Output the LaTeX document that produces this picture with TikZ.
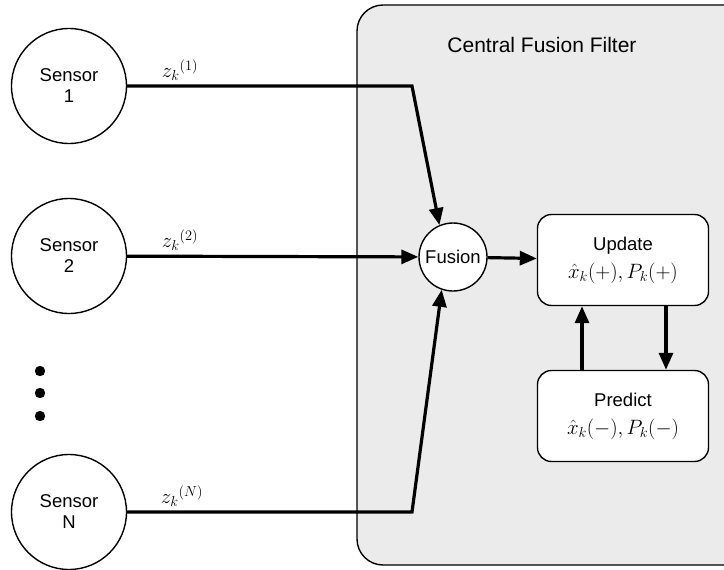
\documentclass[tikz,border=0pt]{standalone}
\usepackage{fontspec}
\setmainfont{Liberation Sans}
\usepackage{xcolor}
\usetikzlibrary{arrows.meta,positioning}
\definecolor{filtergray}{HTML}{EBEBEB}

\begin{document}
\begin{tikzpicture}[
        x=1pt, y=-1pt,
        font=\fontsize{18.5}{21}\selectfont,
        sensor/.style={
            draw=black,
            line width=1.4pt,
            circle,
            minimum size=115pt,
            align=center,
            fill=white
        },
        fusionnode/.style={
            draw=black,
            line width=1.4pt,
            circle,
            minimum size=68pt,
            inner sep=0pt,
            fill=white
        },
        block/.style={
            draw=black,
            line width=1.4pt,
            rounded corners=14pt,
            minimum width=171pt,
            minimum height=91pt,
            align=center,
            fill=white
        },
        zlabel/.style={font=\fontsize{21}{24}\selectfont},
        line/.style={-{Triangle[length=17pt,width=14pt]},line width=3.2pt,black}
    ]
        \useasboundingbox (0,0) rectangle (724,570);
        \clip (0,0) rectangle (724,570);

        % filter box
        \draw[line width=1.4pt, fill=filtergray, rounded corners=26pt] (357,5) rectangle (770,565);
        \node[font=\fontsize{21}{24}\selectfont] (title) at (542,45) {Central Fusion Filter};

        \node[sensor] (s1) at (69,86) {Sensor\\1};
        \node[sensor] (s2) at (69,256) {Sensor\\2};
        \node[sensor] (sn) at (69,512) {Sensor\\N};

        \fill (40,371) circle (5.2);
        \fill (40,393) circle (5.2);
        \fill (40,416) circle (5.2);

        \node[fusionnode] (fusion) at (453,257) {Fusion};
        \node[block] (update) at (623,260) {Update\\[7pt]\fontsize{21}{24}\selectfont$\hat{x}_k(+), P_k(+)$};
        \node[block] (predict) at (623,416) {Predict\\[7pt]\fontsize{21}{24}\selectfont$\hat{x}_k(-), P_k(-)$};

        \coordinate (c1) at (412,86);
        \coordinate (cn) at (412,512);

        \node[zlabel] (z1) at (180,70) {$z_k{}^{(1)}$};
        \node[zlabel] (z2) at (180,240) {$z_k{}^{(2)}$};
        \node[zlabel] (zn) at (182,496) {$z_k{}^{(N)}$};

        \draw[line] (s1) -- (c1) -- (fusion.113);
        \draw[line] (s2) -- (fusion);
        \draw[line] (sn) -- (cn) -- (fusion.251);
        \draw[line] (fusion) -- (update);
        \draw[line] ([xshift=-41pt]predict.north) -- ([xshift=-41pt]update.south);
        \draw[line] ([xshift=43pt]update.south) -- ([xshift=43pt]predict.north);
    \end{tikzpicture}
\end{document}
